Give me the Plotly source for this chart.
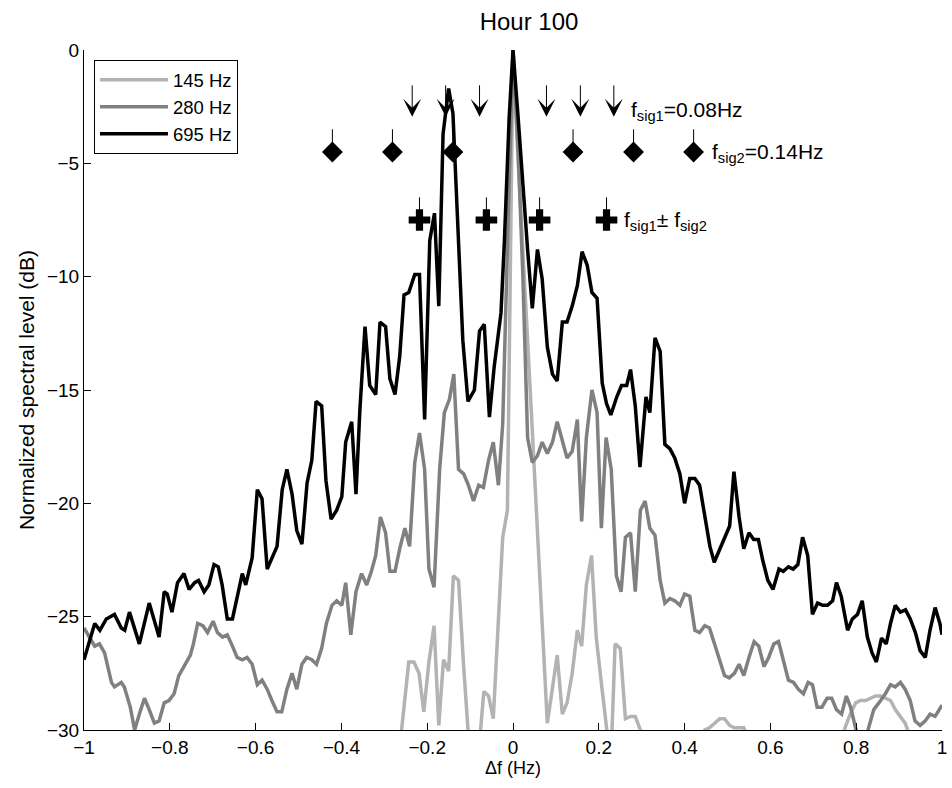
import plotly.graph_objects as go

# ---------------- data ----------------
f_695 = [-1.000, -0.985, -0.975, -0.963, -0.948, -0.929, -0.913, -0.905, -0.894, -0.871,
         -0.848, -0.825, -0.813, -0.806, -0.795, -0.782, -0.767, -0.755, -0.742, -0.733,
         -0.720, -0.709, -0.697, -0.687, -0.678, -0.666, -0.654, -0.631, -0.623, -0.608,
         -0.596, -0.585, -0.573, -0.550, -0.538, -0.527, -0.515, -0.504, -0.492, -0.480,
         -0.469, -0.459, -0.446, -0.436, -0.424, -0.411, -0.399, -0.390, -0.376, -0.366,
         -0.357, -0.345, -0.334, -0.320, -0.310, -0.297, -0.287, -0.275, -0.264, -0.254,
         -0.243, -0.229, -0.218, -0.206, -0.194, -0.183, -0.173, -0.163, -0.150, -0.140,
         -0.129, -0.117, -0.105, -0.090, -0.078, -0.067, -0.055, -0.044, -0.028, -0.020,
         -0.009, 0.000, 0.012, 0.023, 0.034, 0.045, 0.057, 0.068, 0.080, 0.092,
         0.103, 0.115, 0.126, 0.138, 0.150, 0.161, 0.173, 0.184, 0.196, 0.208,
         0.218, 0.228, 0.242, 0.253, 0.265, 0.274, 0.285, 0.296, 0.310, 0.319,
         0.331, 0.343, 0.354, 0.366, 0.377, 0.389, 0.400, 0.412, 0.424, 0.435,
         0.447, 0.459, 0.469, 0.480, 0.493, 0.505, 0.515, 0.527, 0.538, 0.550,
         0.561, 0.572, 0.582, 0.594, 0.606, 0.620, 0.630, 0.642, 0.653, 0.664,
         0.675, 0.687, 0.698, 0.710, 0.722, 0.733, 0.745, 0.754, 0.765, 0.780,
         0.791, 0.803, 0.814, 0.826, 0.837, 0.847, 0.859, 0.870, 0.880, 0.891,
         0.903, 0.915, 0.926, 0.938, 0.949, 0.961, 0.972, 0.984, 0.995, 1.000]
db_695 = [-26.9, -25.9, -25.3, -25.6, -25.1, -24.9, -25.5, -25.6, -24.8, -26.2,
          -24.4, -25.9, -23.9, -24.0, -24.8, -23.5, -23.1, -23.8, -23.5, -23.4,
          -23.9, -23.6, -22.7, -22.8, -23.6, -25.1, -25.1, -23.1, -23.6, -22.4,
          -19.4, -19.8, -22.9, -21.9, -19.4, -18.5, -19.6, -21.2, -21.8, -19.1,
          -18.1, -15.5, -15.7, -19.0, -20.7, -20.3, -19.7, -17.3, -16.4, -19.6,
          -15.9, -12.2, -14.8, -15.2, -12.0, -12.2, -14.5, -15.2, -13.5, -10.8,
          -10.7, -9.9, -9.9, -16.3, -8.4, -7.2, -11.3, -3.7, -1.7, -2.8,
          -7.8, -12.8, -15.5, -15.0, -12.4, -12.1, -16.2, -14.0, -11.6, -8.4,
          -3.0, 0.0, -3.0, -6.0, -8.8, -11.4, -8.8, -10.1, -13.1, -14.3,
          -14.6, -12.0, -12.0, -11.3, -10.4, -8.9, -9.5, -10.7, -10.95, -14.7,
          -15.6, -16.1, -15.3, -14.8, -14.8, -14.1, -15.7, -18.4, -15.3, -16.0,
          -12.7, -13.3, -17.4, -17.6, -18.0, -18.7, -20.0, -18.9, -18.9, -19.2,
          -20.6, -21.9, -22.6, -22.1, -21.5, -21.0, -18.6, -20.6, -22.0, -21.3,
          -21.6, -21.6, -22.5, -23.4, -23.8, -22.9, -23.0, -22.8, -22.9, -22.7,
          -21.5, -22.3, -24.9, -24.4, -24.5, -24.5, -24.3, -23.5, -24.1, -25.6,
          -25.1, -24.9, -24.3, -25.9, -26.6, -27.0, -25.95, -26.2, -25.3, -24.5,
          -24.8, -24.7, -25.1, -25.7, -26.5, -26.8, -25.6, -24.6, -25.3, -25.8]

f_280 = [-1.000, -0.990, -0.975, -0.964, -0.952, -0.936, -0.929, -0.913, -0.906, -0.892,
         -0.882, -0.871, -0.859, -0.848, -0.836, -0.825, -0.813, -0.802, -0.790, -0.779,
         -0.762, -0.752, -0.745, -0.735, -0.723, -0.712, -0.699, -0.689, -0.677, -0.666,
         -0.654, -0.643, -0.631, -0.620, -0.608, -0.596, -0.585, -0.573, -0.562, -0.550,
         -0.539, -0.527, -0.515, -0.504, -0.492, -0.481, -0.469, -0.458, -0.446, -0.435,
         -0.422, -0.411, -0.399, -0.390, -0.378, -0.366, -0.353, -0.341, -0.330, -0.320,
         -0.309, -0.297, -0.287, -0.275, -0.264, -0.252, -0.241, -0.229, -0.218, -0.206,
         -0.196, -0.184, -0.171, -0.160, -0.148, -0.138, -0.127, -0.115, -0.104, -0.092,
         -0.080, -0.069, -0.057, -0.046, -0.034, -0.024, -0.012, 0.000, 0.012, 0.023,
         0.034, 0.045, 0.057, 0.068, 0.080, 0.092, 0.103, 0.115, 0.126, 0.138,
         0.150, 0.160, 0.171, 0.184, 0.196, 0.206, 0.217, 0.229, 0.241, 0.252,
         0.262, 0.274, 0.285, 0.297, 0.308, 0.319, 0.331, 0.343, 0.354, 0.366,
         0.377, 0.389, 0.400, 0.412, 0.424, 0.435, 0.447, 0.458, 0.470, 0.481,
         0.493, 0.504, 0.516, 0.527, 0.538, 0.550, 0.562, 0.573, 0.585, 0.596,
         0.608, 0.619, 0.631, 0.642, 0.654, 0.665, 0.677, 0.688, 0.698, 0.709,
         0.720, 0.732, 0.743, 0.754, 0.766, 0.777, 0.787, 0.810, 0.826, 0.841,
         0.857, 0.868, 0.880, 0.891, 0.903, 0.914, 0.926, 0.937, 0.949, 0.961,
         0.972, 0.984, 1.000]
db_280 = [-25.5, -25.8, -26.3, -26.2, -26.6, -27.9, -28.1, -27.9, -28.1, -29.0,
          -30.0, -29.3, -28.6, -29.1, -29.7, -29.6, -28.8, -28.7, -28.4, -27.6,
          -27.0, -26.7, -26.2, -25.3, -25.4, -25.7, -25.2, -25.7, -25.9, -25.8,
          -26.3, -26.8, -26.9, -26.8, -27.1, -28.0, -27.8, -28.2, -28.7, -29.2,
          -29.2, -28.2, -27.5, -28.2, -27.1, -26.8, -26.9, -27.1, -26.4, -25.3,
          -24.5, -24.3, -24.5, -23.5, -25.8, -23.9, -23.1, -23.6, -23.0, -22.3,
          -20.6, -21.3, -23.0, -23.0, -22.0, -21.1, -21.9, -18.2, -16.9, -18.5,
          -22.9, -23.7, -18.5, -16.0, -15.4, -14.3, -18.5, -18.7, -19.2, -19.9,
          -19.2, -19.3, -18.1, -17.3, -19.2, -16.5, -8.0, 0.0, -4.5, -10.0,
          -17.1, -18.2, -17.9, -17.3, -17.8, -17.3, -16.4, -17.2, -18.0, -17.7,
          -16.3, -20.8, -17.1, -15.0, -16.0, -21.1, -17.1, -18.5, -23.2, -23.9,
          -21.5, -21.3, -23.9, -20.3, -19.9, -21.1, -21.4, -23.4, -24.4, -24.2,
          -24.3, -24.5, -24.0, -24.1, -25.6, -25.7, -25.4, -25.5, -26.2, -26.9,
          -27.6, -27.7, -27.5, -27.1, -27.6, -26.8, -26.1, -26.3, -27.2, -26.8,
          -26.2, -26.1, -27.0, -27.8, -27.9, -28.2, -28.4, -27.9, -28.0, -29.0,
          -29.0, -28.6, -28.6, -29.1, -29.3, -28.5, -29.0, -30.8, -30.1, -29.1,
          -28.7, -28.4, -28.0, -28.1, -27.9, -28.2, -28.7, -29.6, -29.8, -29.6,
          -29.3, -29.4, -28.9]

f_145 = [-0.268, -0.243, -0.231, -0.219, -0.208, -0.196, -0.184, -0.173, -0.162, -0.150,
         -0.139, -0.127, -0.115, -0.103, -0.092, -0.080, -0.068, -0.057, -0.046, -0.034,
         -0.024, -0.013, 0.000, 0.011, 0.022, 0.034, 0.045, 0.057, 0.068, 0.080,
         0.092, 0.103, 0.115, 0.126, 0.138, 0.150, 0.160, 0.171, 0.183, 0.194,
         0.207, 0.219, 0.228, 0.238, 0.250, 0.262, 0.274, 0.285, 0.297, 0.310,
         0.430, 0.447, 0.458, 0.470, 0.482, 0.493, 0.505, 0.516, 0.527, 0.538,
         0.550, 0.760, 0.774, 0.786, 0.799, 0.810, 0.822, 0.834, 0.845, 0.857,
         0.868, 0.880, 0.891, 0.903, 0.914, 0.922, 0.940, 1.000]
db_145 = [-31.5, -27.0, -27.0, -27.5, -29.2, -27.0, -25.4, -29.8, -26.9, -27.4,
          -23.2, -23.4, -27.2, -30.5, -32.0, -31.0, -28.3, -28.5, -29.5, -25.5,
          -21.5, -20.3, 0.0, -4.5, -8.8, -12.8, -16.8, -20.9, -25.3, -29.7,
          -28.0, -26.7, -29.3, -28.8, -27.5, -25.6, -26.3, -23.6, -22.3, -25.9,
          -28.1, -30.1, -31.5, -26.2, -26.4, -29.5, -29.4, -29.4, -30.0, -31.0,
          -32.0, -30.0, -29.9, -29.7, -29.5, -29.5, -29.8, -29.9, -29.9, -29.9,
          -30.5, -31.0, -29.9, -29.3, -28.8, -28.7, -28.7, -28.6, -28.5, -28.5,
          -28.6, -28.7, -29.1, -29.4, -29.7, -30.1, -31.5, -32.0]

# harmonic marker positions (Hz)
arrow_f = [-0.235, -0.157, -0.078, 0.078, 0.157, 0.235]      # multiples of f_sig1
diamond_f = [-0.421, -0.281, -0.140, 0.140, 0.281, 0.421]    # multiples of f_sig2
cross_f = [-0.218, -0.062, 0.062, 0.218]                      # f_sig1 +/- f_sig2

series_names = ["145 Hz", "280 Hz", "695 Hz"]
x_ticks = [-1, -0.8, -0.6, -0.4, -0.2, 0, 0.2, 0.4, 0.6, 0.8, 1]
y_ticks = [-30, -25, -20, -15, -10, -5, 0]

# ---------------- style ----------------
FONT = "Liberation Sans, Arial, sans-serif"
LW = 3.5
ARROW_Y, DIAM_Y, CROSS_Y = -2.95, -4.5, -7.5

fig = go.Figure()
fig.add_trace(go.Scatter(x=f_145, y=db_145, mode="lines", name=series_names[0],
                         line=dict(color="#b3b3b3", width=LW)))
fig.add_trace(go.Scatter(x=f_280, y=db_280, mode="lines", name=series_names[1],
                         line=dict(color="#808080", width=LW)))
fig.add_trace(go.Scatter(x=f_695, y=db_695, mode="lines", name=series_names[2],
                         line=dict(color="#000000", width=LW)))

def stems(fs, y0, y1):
    xs, ys = [], []
    for f in fs:
        xs += [f, f, None]
        ys += [y0, y1, None]
    return xs, ys

sx, sy = stems(diamond_f, DIAM_Y, DIAM_Y + 1.0)
fig.add_trace(go.Scatter(x=sx, y=sy, mode="lines", line=dict(color="black", width=1),
                         showlegend=False, hoverinfo="skip"))
sx, sy = stems(cross_f, CROSS_Y, CROSS_Y + 1.0)
fig.add_trace(go.Scatter(x=sx, y=sy, mode="lines", line=dict(color="black", width=1),
                         showlegend=False, hoverinfo="skip"))
fig.add_trace(go.Scatter(x=diamond_f, y=[DIAM_Y] * len(diamond_f), mode="markers",
                         marker=dict(symbol="diamond", size=16, color="black"),
                         showlegend=False, hoverinfo="skip"))
fig.add_trace(go.Scatter(x=cross_f, y=[CROSS_Y] * len(cross_f), mode="markers",
                         marker=dict(symbol="cross", size=18, color="black"),
                         showlegend=False, hoverinfo="skip"))

annotations = []
for f in arrow_f:
    annotations.append(dict(x=f, y=ARROW_Y, xref="x", yref="y", text="", showarrow=True,
                            ax=0, ay=-33, arrowhead=3, arrowsize=3.0, arrowwidth=1,
                            arrowcolor="black"))

lab_font = dict(family=FONT, size=21, color="black")
annotations.append(dict(x=max(arrow_f), y=ARROW_Y + 0.25, xref="x", yref="y", xanchor="left",
                        yanchor="middle", xshift=15, showarrow=False, font=lab_font,
                        text="f<sub>sig1</sub>=0.08Hz"))
annotations.append(dict(x=max(diamond_f), y=DIAM_Y - 0.05, xref="x", yref="y", xanchor="left",
                        yanchor="middle", xshift=16, showarrow=False, font=lab_font,
                        text="f<sub>sig2</sub>=0.14Hz"))
annotations.append(dict(x=max(cross_f), y=CROSS_Y - 0.05, xref="x", yref="y", xanchor="left",
                        yanchor="middle", xshift=15, showarrow=False, font=lab_font,
                        text="f<sub>sig1</sub>\u00b1 f<sub>sig2</sub>"))

fig.update_layout(
    width=952, height=788,
    margin=dict(l=84, r=5, t=50, b=58),
    paper_bgcolor="white", plot_bgcolor="white",
    font=dict(family=FONT, size=18, color="black"),
    title=dict(text="Hour 100", x=0.5557, xanchor="center", y=0.972, yanchor="middle",
               font=dict(family=FONT, size=24, color="black")),
    showlegend=True,
    legend=dict(x=0.0116, y=0.985, xanchor="left", yanchor="top",
                bgcolor="white", bordercolor="black", borderwidth=1,
                font=dict(family=FONT, size=18.5, color="black"),
                itemwidth=68, tracegroupgap=0),
    annotations=annotations,
)
fig.update_xaxes(range=[-1, 1], tickvals=x_ticks, ticks="inside", ticklen=7,
                 tickcolor="black", showline=True, linecolor="black", linewidth=1,
                 showgrid=False, zeroline=False, mirror=False,
                 ticklabeloverflow="allow",
                 tickfont=dict(family=FONT, size=19, color="black"),
                 title=dict(text="\u0394f (Hz)", standoff=4,
                            font=dict(family=FONT, size=18, color="black")))
fig.update_yaxes(range=[-30, 0], tickvals=y_ticks, ticks="inside", ticklen=7,
                 tickcolor="black", showline=True, linecolor="black", linewidth=1,
                 showgrid=False, zeroline=False, mirror=False,
                 tickfont=dict(family=FONT, size=19, color="black"),
                 title=dict(text="Normalized spectral level (dB)", standoff=6,
                            font=dict(family=FONT, size=21, color="black")))

fig.write_html("out.html")
